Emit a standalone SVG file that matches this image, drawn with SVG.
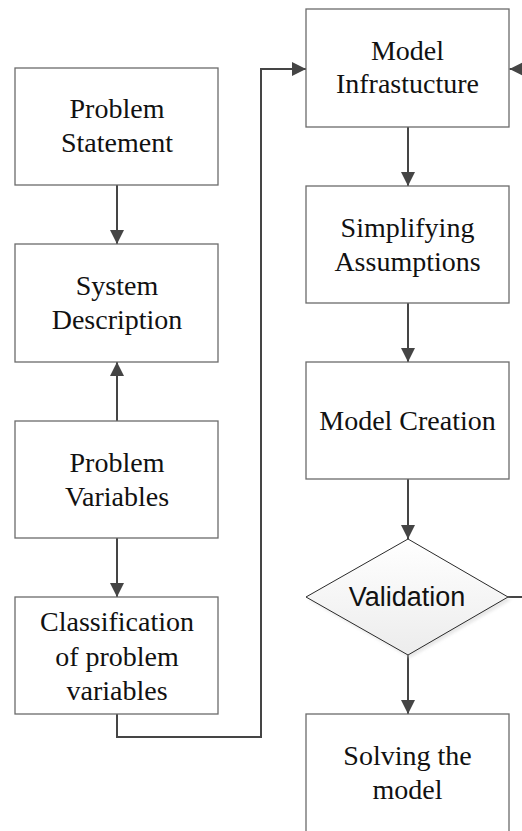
<svg xmlns="http://www.w3.org/2000/svg" width="522" height="831" viewBox="0 0 522 831">
  <style>
    .box { fill: #ffffff; stroke: #6b6b6b; stroke-width: 1.3; }
    .lbl { font-family: "Liberation Serif", "Times New Roman", serif; font-size: 28px; fill: #111111; text-anchor: middle; }
    .slbl { font-family: "Liberation Sans", Arial, sans-serif; font-size: 27px; fill: #111111; text-anchor: middle; }
    .wire { fill: none; stroke: #454545; stroke-width: 2; }
    .wire-end { fill: none; stroke: #454545; stroke-width: 2; marker-end: url(#head); }
  </style>
  <defs>
    <marker id="head" markerWidth="14" markerHeight="14" viewBox="0 0 14 14" refX="14" refY="7" orient="auto" markerUnits="userSpaceOnUse">
      <path d="M0,0 L14,7 L0,14 Z" fill="#454545"/>
    </marker>
    <linearGradient id="diaFill" x1="0" y1="0" x2="0" y2="1">
      <stop offset="0" stop-color="#ffffff"/>
      <stop offset="1" stop-color="#ececec"/>
    </linearGradient>
    <filter id="soft" x="-10%" y="-10%" width="130%" height="130%">
      <feGaussianBlur stdDeviation="1.5"/>
    </filter>
  </defs>

  <rect width="522" height="831" fill="#ffffff"/>

  <!-- connectors -->
  <g id="connectors">
    <line class="wire-end" x1="117" y1="185" x2="117" y2="244"/>
    <line class="wire-end" x1="117" y1="421" x2="117" y2="362"/>
    <line class="wire-end" x1="117" y1="538" x2="117" y2="597"/>
    <polyline class="wire-end" points="117,714 117,737 261,737 261,69 306,69"/>
    <line class="wire-end" x1="408" y1="127" x2="408" y2="186"/>
    <line class="wire-end" x1="408" y1="303" x2="408" y2="362"/>
    <line class="wire-end" x1="408" y1="479" x2="408" y2="539"/>
    <line class="wire-end" x1="408" y1="655" x2="408" y2="714"/>
    <line class="wire" x1="508" y1="597" x2="524" y2="597"/>
    <line class="wire-end" x1="530" y1="69" x2="509.5" y2="69"/>
  </g>

  <!-- left column -->
  <g id="problem-statement">
    <rect class="box" x="15" y="68" width="203" height="117"/>
    <text class="lbl" x="117" y="118">Problem</text>
    <text class="lbl" x="117" y="152">Statement</text>
  </g>
  <g id="system-description">
    <rect class="box" x="15" y="244" width="203" height="118"/>
    <text class="lbl" x="117" y="295">System</text>
    <text class="lbl" x="117" y="329">Description</text>
  </g>
  <g id="problem-variables">
    <rect class="box" x="15" y="421" width="203" height="117"/>
    <text class="lbl" x="117" y="472">Problem</text>
    <text class="lbl" x="117" y="506">Variables</text>
  </g>
  <g id="classification">
    <rect class="box" x="15" y="597" width="203" height="117"/>
    <text class="lbl" x="117" y="631">Classification</text>
    <text class="lbl" x="117" y="665.5">of problem</text>
    <text class="lbl" x="117" y="700">variables</text>
  </g>

  <!-- right column -->
  <g id="model-infrastructure">
    <rect class="box" x="306" y="9" width="203" height="118"/>
    <text class="lbl" x="407.5" y="60">Model</text>
    <text class="lbl" x="407.5" y="93">Infrastucture</text>
  </g>
  <g id="simplifying-assumptions">
    <rect class="box" x="306" y="186" width="203" height="117"/>
    <text class="lbl" x="407.5" y="237">Simplifying</text>
    <text class="lbl" x="407.5" y="271">Assumptions</text>
  </g>
  <g id="model-creation">
    <rect class="box" x="306" y="362" width="203" height="117"/>
    <text class="lbl" x="407.5" y="430">Model Creation</text>
  </g>
  <g id="validation">
    <polygon points="410,542 511,600 410,658 309,600" fill="#d8d8d8" opacity="0.6" filter="url(#soft)"/>
    <polygon points="408,539 508,597 408,655 306,597" fill="url(#diaFill)" stroke="#2a2a2a" stroke-width="1"/>
    <text class="slbl" x="407" y="606">Validation</text>
  </g>
  <g id="solving-the-model">
    <rect class="box" x="306" y="714" width="203" height="120"/>
    <text class="lbl" x="407.5" y="765">Solving the</text>
    <text class="lbl" x="407.5" y="799">model</text>
  </g>
</svg>
